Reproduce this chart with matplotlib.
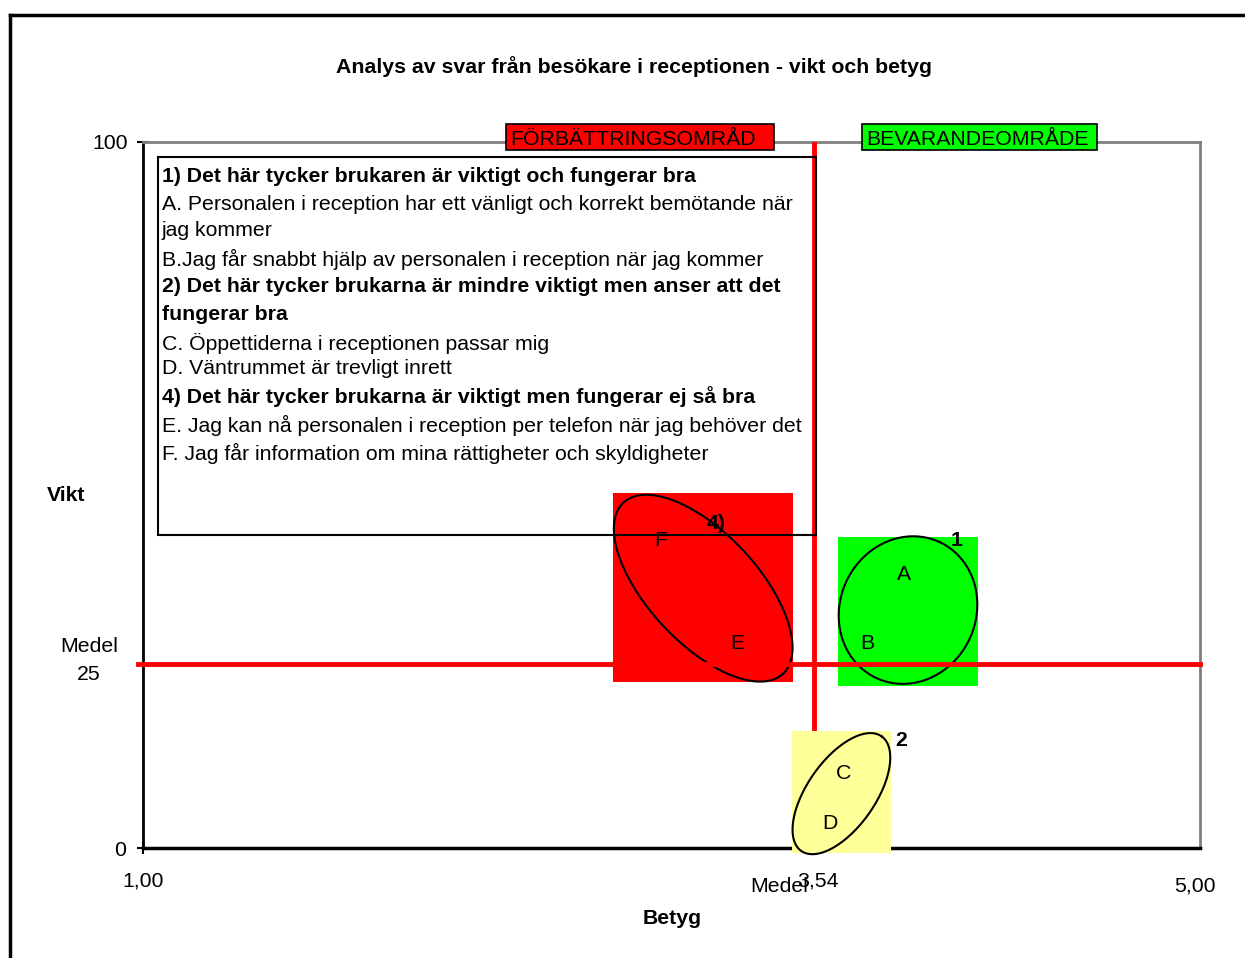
import numpy as np
import matplotlib
matplotlib.use("Agg")
import matplotlib.pyplot as plt
from matplotlib.patches import Rectangle
from matplotlib.lines import Line2D

plt.rcParams['font.family'] = ['Liberation Sans', 'DejaVu Sans']

# ---------------------------------------------------------------
# Data (Betyg = x, Vikt = y)
# ---------------------------------------------------------------
betyg_medel = 3.54
vikt_medel = 26
medel_x_label = "3,54"
medel_y_label = "25"

letters = ['A', 'B', 'C', 'D', 'E', 'F']
betyg = [3.88, 3.74, 3.65, 3.60, 3.25, 2.96]
vikt = [38.7, 28.9, 10.6, 3.4, 28.9, 43.5]

group_names = ['1', '2', '4)']
group_x = [4.08, 3.87, 3.17]
group_y = [43.5, 15.2, 45.9]

# colored areas: (x0, x1, y0, y1)
area_red = (2.78, 3.46, 23.5, 50.3)
area_green = (3.63, 4.16, 22.9, 44.0)
area_yellow = (3.455, 3.83, -0.7, 16.6)

# ellipses: center (betyg, vikt), semi axes in px, angle
ell_red = (3.12, 36.8, 117, 55, -47)
ell_green = (3.895, 33.7, 75, 68, 65)
ell_yellow = (3.643, 7.7, 70, 34, 55)

legend_lines = [
    ("1) Det här tycker brukaren är viktigt och fungerar bra", True),
    ("A. Personalen i reception har ett vänligt och korrekt bemötande när", False),
    ("jag kommer", False),
    ("B.Jag får snabbt hjälp av personalen i reception när jag kommer", False),
    ("2) Det här tycker brukarna är mindre viktigt men anser att det", True),
    ("fungerar bra", True),
    ("C. Öppettiderna i receptionen passar mig", False),
    ("D. Väntrummet är trevligt inrett", False),
    ("4) Det här tycker brukarna är viktigt men fungerar ej så bra", True),
    ("E. Jag kan nå personalen i reception per telefon när jag behöver det", False),
    ("F. Jag får information om mina rättigheter och skyldigheter", False),
]

# ---------------------------------------------------------------
W, H = 1245, 958
fig = plt.figure(figsize=(W / 100, H / 100), dpi=100)
ax = fig.add_axes([143 / W, (H - 848) / H, 1057 / W, 706 / H])
ax.set_xlim(1, 5)
ax.set_ylim(0, 100)

px_x = 1057 / 4.0
px_y = 706 / 100.0
FS = 15.3
SH = 2  # text is placed a little lower (px)


def dx(px):
    return 1 + (px - 143) / px_x


def dy(py):
    return (848 - py) / px_y


# outer frame (cropped chart area)
fig.add_artist(Line2D([10 / W, 10 / W], [0, 1 - 15 / H], color='black', lw=2.5))
fig.add_artist(Line2D([10 / W, 1], [1 - 15 / H, 1 - 15 / H], color='black', lw=2.5))


def area(a, color, z):
    r = Rectangle((a[0], a[2]), a[1] - a[0], a[3] - a[2], facecolor=color,
                  edgecolor='none', zorder=z, clip_on=False)
    ax.add_patch(r)


def ellipse(e, z):
    cx, cy, a, b, ang = e
    t = np.linspace(0, 2 * np.pi, 200)
    th = np.deg2rad(ang)
    ex = a * np.cos(t) * np.cos(th) - b * np.sin(t) * np.sin(th)
    ey = a * np.cos(t) * np.sin(th) + b * np.sin(t) * np.cos(th)
    ax.plot(cx + ex / px_x, cy + ey / px_y, color='black', lw=1.5, zorder=z, clip_on=False)


area(area_red, '#FF0000', 2)
area(area_green, '#00FF00', 2)
ellipse(ell_red, 3)
ellipse(ell_green, 3)

# mean lines
ax.plot([betyg_medel, betyg_medel], [0, 100], color='#FF0000', lw=3.5, zorder=4)
ax.plot([0.98, 5], [vikt_medel, vikt_medel], color='#FF0000', lw=3.5, zorder=4, clip_on=False)

area(area_yellow, '#FFFF99', 5)
ellipse(ell_yellow, 6)

for l, x, y in zip(letters, betyg, vikt):
    ax.text(x, y, l, fontsize=FS, ha='center', va='center', zorder=7)
for g, x, y in zip(group_names, group_x, group_y):
    ax.text(x, y, g, fontsize=FS, fontweight='bold', ha='center', va='center', zorder=7)

# spines
for s in ['top', 'right']:
    ax.spines[s].set_color('#808080')
    ax.spines[s].set_linewidth(2)
ax.spines['left'].set_color('black')
ax.spines['left'].set_linewidth(2)
ax.spines['bottom'].set_color('black')
ax.spines['bottom'].set_linewidth(2.5)
ax.spines['bottom'].set_zorder(4.5)

ax.set_xticks([1])
ax.set_xticklabels([''])
ax.set_yticks([0, 100])
ax.set_yticklabels(['', ''])
ax.tick_params(axis='both', direction='inout', length=8, width=1.5)

# tick labels as in the original
ax.text(dx(120), dy(848 + SH), '0', ha='center', va='center', fontsize=FS, clip_on=False)
ax.text(dx(110), dy(142 + SH), '100', ha='center', va='center', fontsize=FS, clip_on=False)
ax.text(dx(89), dy(645 + SH), 'Medel', ha='center', va='center', fontsize=FS, clip_on=False)
ax.text(dx(89), dy(672 + SH), medel_y_label, ha='center', va='center', fontsize=FS, clip_on=False)
ax.text(1, dy(879 + SH), '1,00', ha='center', va='center', fontsize=FS, clip_on=False)
ax.text(dx(1195), dy(884 + SH), '5,00', ha='center', va='center', fontsize=FS, clip_on=False)
ax.text(dx(779), dy(884 + SH), 'Medel', ha='center', va='center', fontsize=FS, clip_on=False)
ax.text(betyg_medel + 0.015, dy(879 + SH), medel_x_label, ha='center', va='center', fontsize=FS,
        clip_on=False)

ax.text(dx(66), dy(494 + SH), 'Vikt', ha='center', va='center', fontsize=FS, fontweight='bold',
        clip_on=False)
ax.text(dx(672), dy(917 + SH), 'Betyg', ha='center', va='center', fontsize=FS, fontweight='bold',
        clip_on=False)

fig.text(634 / W, 1 - (65 + SH) / H, 'Analys av svar från besökare i receptionen - vikt och betyg',
         ha='center', va='center', fontsize=FS, fontweight='bold')

# area headers
for (x0, x1, col, txt) in [(506, 774, '#FF0000', 'FÖRBÄTTRINGSOMRÅD'),
                           (862, 1097, '#00FF00', 'BEVARANDEOMRÅDE')]:
    ax.add_patch(Rectangle((dx(x0), dy(150)), dx(x1) - dx(x0), dy(124) - dy(150),
                           facecolor=col, edgecolor='black', lw=1.2, zorder=8, clip_on=False))
    ax.text(dx(x0 + 4), dy(138 + SH), txt, ha='left', va='center', fontsize=FS, zorder=9,
            clip_on=False)

# explanation box
ax.add_patch(Rectangle((dx(158), dy(535)), dx(816) - dx(158), dy(157) - dy(535),
                       facecolor='none', edgecolor='black', lw=1.5, zorder=6))
line_y = [175, 203, 229, 257, 285, 313, 341, 367, 395, 423, 451]
for (txt, bold), py in zip(legend_lines, line_y):
    ax.text(dx(162), dy(py + SH), txt, ha='left', va='center', fontsize=FS,
            fontweight='bold' if bold else 'normal', zorder=7)

fig.savefig('out.png', dpi=100)
